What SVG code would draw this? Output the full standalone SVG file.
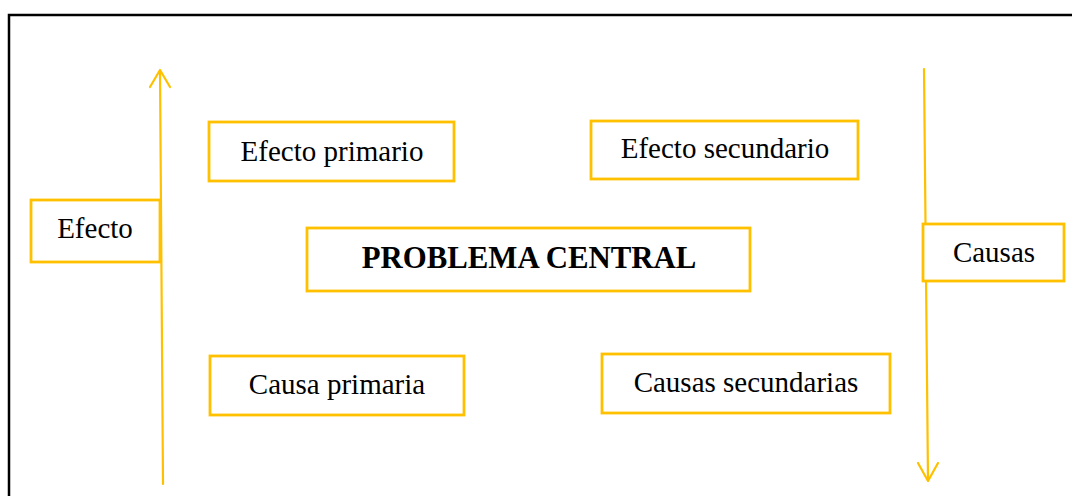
<svg xmlns="http://www.w3.org/2000/svg" width="1072" height="496" viewBox="0 0 1072 496">
<style>
.box{fill:#fff;stroke:#FFC000;stroke-width:2.8}
.t{font-family:"Liberation Serif","Times New Roman",serif;font-size:29px;fill:#000;text-anchor:middle}
.b{font-weight:bold;font-size:30.8px}
.ln{fill:none;stroke:#FFC000;stroke-width:2.2;stroke-linecap:round;stroke-linejoin:round}
</style>
<rect width="1072" height="496" fill="#fff"/>
<path d="M9,496 V15 H1072" fill="none" stroke="#000" stroke-width="2.5"/>
<g id="connectors">
<path class="ln" d="M163,484 L160,71"/>
<path class="ln" d="M150,87 L160,70 L170,87"/>
<path class="ln" d="M924,69 L928,480"/>
<path class="ln" d="M918,463 L928,481 L938,463"/>
</g>
<g id="efecto">
<rect class="box" x="31" y="200" width="129" height="62"/>
<text class="t" x="95" y="238">Efecto</text>
</g>
<g id="efecto-primario">
<rect class="box" x="209" y="122" width="245" height="59"/>
<text class="t" x="332" y="161">Efecto primario</text>
</g>
<g id="efecto-secundario">
<rect class="box" x="591" y="121" width="267" height="58"/>
<text class="t" x="725" y="158">Efecto secundario</text>
</g>
<g id="problema-central">
<rect class="box" x="307" y="228" width="443" height="63"/>
<text class="t b" x="529" y="268">PROBLEMA CENTRAL</text>
</g>
<g id="causas">
<rect class="box" x="923" y="224" width="141" height="57"/>
<text class="t" x="994" y="262">Causas</text>
</g>
<g id="causa-primaria">
<rect class="box" x="210" y="356" width="254" height="59"/>
<text class="t" x="337" y="394">Causa primaria</text>
</g>
<g id="causas-secundarias">
<rect class="box" x="602" y="354" width="288" height="59"/>
<text class="t" x="746" y="392">Causas secundarias</text>
</g>
</svg>
